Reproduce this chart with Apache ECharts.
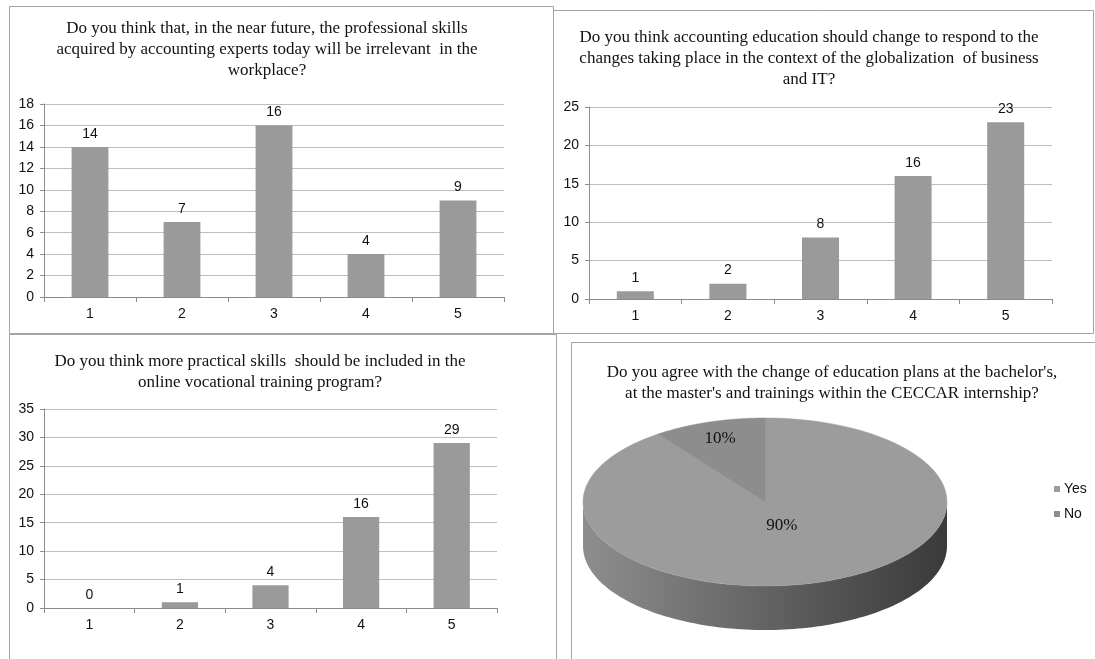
<!DOCTYPE html>
<html><head><meta charset="utf-8">
<script src="https://cdn.jsdelivr.net/npm/echarts@6/dist/echarts.min.js"></script>
<style>html,body{margin:0;padding:0;background:#fff}#c{width:1095px;height:659px}</style>
</head><body><div id="c"></div>
<script>
const categories = ['1', '2', '3', '4', '5'];
const q1Values = [14, 7, 16, 4, 9];
const q2Values = [1, 2, 8, 16, 23];
const q3Values = [0, 1, 4, 16, 29];
const pieNames = ['Yes', 'No'];
const pieValues = [90, 10];
const title1 = 'Do you think that, in the near future, the professional skills\nacquired by accounting experts today will be irrelevant  in the\nworkplace?';
const title2 = 'Do you think accounting education should change to respond to the\nchanges taking place in the context of the globalization  of business\nand IT?';
const title3 = 'Do you think more practical skills  should be included in the\nonline vocational training program?';
const title4 = 'Do you agree with the change of education plans at the bachelor\'s,\nat the master\'s and trainings within the CECCAR internship?';
const yMax = [18, 25, 35];
const yStep = [2, 5, 5];

const SERIF = '"Liberation Serif", "Times New Roman", serif';
const SANS = '"Liberation Sans", Arial, sans-serif';
const BAR = '#9a9a9a';

const chart = echarts.init(document.getElementById('c'), null, {renderer: 'canvas'});

function titleOpt(text, cx, top) {
  return {text, left: cx, top, padding: 0, textAlign: 'center',
    textStyle: {fontFamily: SERIF, fontSize: 17, fontWeight: 'normal', color: '#111', lineHeight: 21}};
}
const grids = [
  {left: 44, top: 104, width: 460, height: 193},
  {left: 589, top: 107, width: 463, height: 192},
  {left: 44, top: 409, width: 453, height: 199}
];
function xAx(i) {
  return {type: 'category', gridIndex: i, data: categories,
    axisLine: {show: true, lineStyle: {color: '#8c8c8c', width: 1}},
    axisTick: {show: true, alignWithLabel: false, length: 5, lineStyle: {color: '#8c8c8c'}},
    axisLabel: {fontFamily: SANS, fontSize: 14, color: '#111', margin: 10},
    splitLine: {show: false}};
}
function yAx(i) {
  return {type: 'value', gridIndex: i, min: 0, max: yMax[i], interval: yStep[i],
    axisLine: {show: true, lineStyle: {color: '#8c8c8c', width: 1}},
    axisTick: {show: true, length: 4, lineStyle: {color: '#8c8c8c'}},
    axisLabel: {fontFamily: SANS, fontSize: 14, color: '#111', margin: 10},
    splitLine: {show: true, lineStyle: {color: '#bdbdbd', width: 1}}};
}
function barSeries(i, vals) {
  return {type: 'bar', xAxisIndex: i, yAxisIndex: i, data: vals, barWidth: '40%',
    itemStyle: {color: BAR},
    label: {show: true, position: 'top', distance: 6, fontFamily: SANS, fontSize: 14, color: '#111'}};
}

// 3D pie geometry
const P = {cx: 765, cy: 502, rx: 182, ry: 84, depth: 44};
const pieTopColors = ['#9c9c9c', '#8d8d8d'];
const labelR = [0.3, 0.8];
const total = pieValues.reduce((a, b) => a + b, 0);
function pt(theta, dy) {
  return [P.cx + P.rx * Math.sin(theta), P.cy - P.ry * Math.cos(theta) + (dy || 0)];
}
const sideFill = {type: 'linear', x: P.cx - P.rx, y: 0, x2: P.cx + P.rx, y2: 0, global: true,
  colorStops: [{offset: 0, color: '#8e8e8e'}, {offset: 0.5, color: '#636363'}, {offset: 1, color: '#3a3a3a'}]};

function renderPie(params, api) {
  const i = params.dataIndex;
  let before = 0;
  for (let k = 0; k < i; k++) before += pieValues[k];
  const v = api.value(0);
  const a0 = before / total * 2 * Math.PI;
  const a1 = (before + v) / total * 2 * Math.PI;
  const n = 120;
  const children = [];
  const s0 = Math.max(a0, Math.PI / 2), s1 = Math.min(a1, 1.5 * Math.PI);
  if (s1 > s0) {
    const pts = [];
    for (let j = 0; j <= n; j++) pts.push(pt(s0 + (s1 - s0) * j / n));
    for (let j = n; j >= 0; j--) pts.push(pt(s0 + (s1 - s0) * j / n, P.depth));
    children.push({type: 'polygon', shape: {points: pts}, style: {fill: sideFill}});
  }
  const top = [[P.cx, P.cy]];
  for (let j = 0; j <= n; j++) top.push(pt(a0 + (a1 - a0) * j / n));
  children.push({type: 'polygon', shape: {points: top},
    style: {fill: pieTopColors[i], stroke: pieTopColors[i], lineWidth: 0.5}});
  const mid = (a0 + a1) / 2;
  const r = labelR[i];
  children.push({type: 'text', z2: 10, style: {
    text: Math.round(v / total * 100) + '%',
    x: P.cx + P.rx * r * Math.sin(mid), y: P.cy - P.ry * r * Math.cos(mid),
    align: 'center', verticalAlign: 'middle',
    font: '17px ' + SERIF, fill: '#111'}});
  return {type: 'group', children};
}

const legendGraphics = [];
pieNames.forEach((name, i) => {
  const y = 489 + i * 25;
  legendGraphics.push({type: 'rect', shape: {x: 1054, y: y - 3, width: 6, height: 6},
    style: {fill: pieTopColors[i]}, silent: true});
  legendGraphics.push({type: 'text', style: {text: name, x: 1064, y: y, verticalAlign: 'middle',
    font: '14px ' + SANS, fill: '#111'}, silent: true});
});

function frame(x1, y1, x2, y2) {
  return {type: 'rect', shape: {x: x1 + 0.5, y: y1 + 0.5, width: x2 - x1, height: y2 - y1},
    style: {fill: null, stroke: '#a3a3a3', lineWidth: 1}, silent: true, z: -1};
}

chart.setOption({
  animation: false,
  backgroundColor: '#fff',
  title: [
    titleOpt(title1, 267, 18),
    titleOpt(title2, 809, 27),
    titleOpt(title3, 260, 351),
    titleOpt(title4, 832, 362)
  ],
  grid: grids,
  xAxis: [xAx(0), xAx(1), xAx(2)],
  yAxis: [yAx(0), yAx(1), yAx(2)],
  series: [
    barSeries(0, q1Values),
    barSeries(1, q2Values),
    barSeries(2, q3Values),
    {type: 'custom', name: 'pie', coordinateSystem: 'none',
      data: pieValues.map((v, i) => ({name: pieNames[i], value: [v]})),
      renderItem: renderPie}
  ],
  graphic: [
    frame(9, 6, 553, 333),
    frame(553, 10, 1093, 333),
    frame(9, 334, 556, 680),
    frame(571, 342, 1110, 680)
  ].concat(legendGraphics)
});
</script></body></html>
